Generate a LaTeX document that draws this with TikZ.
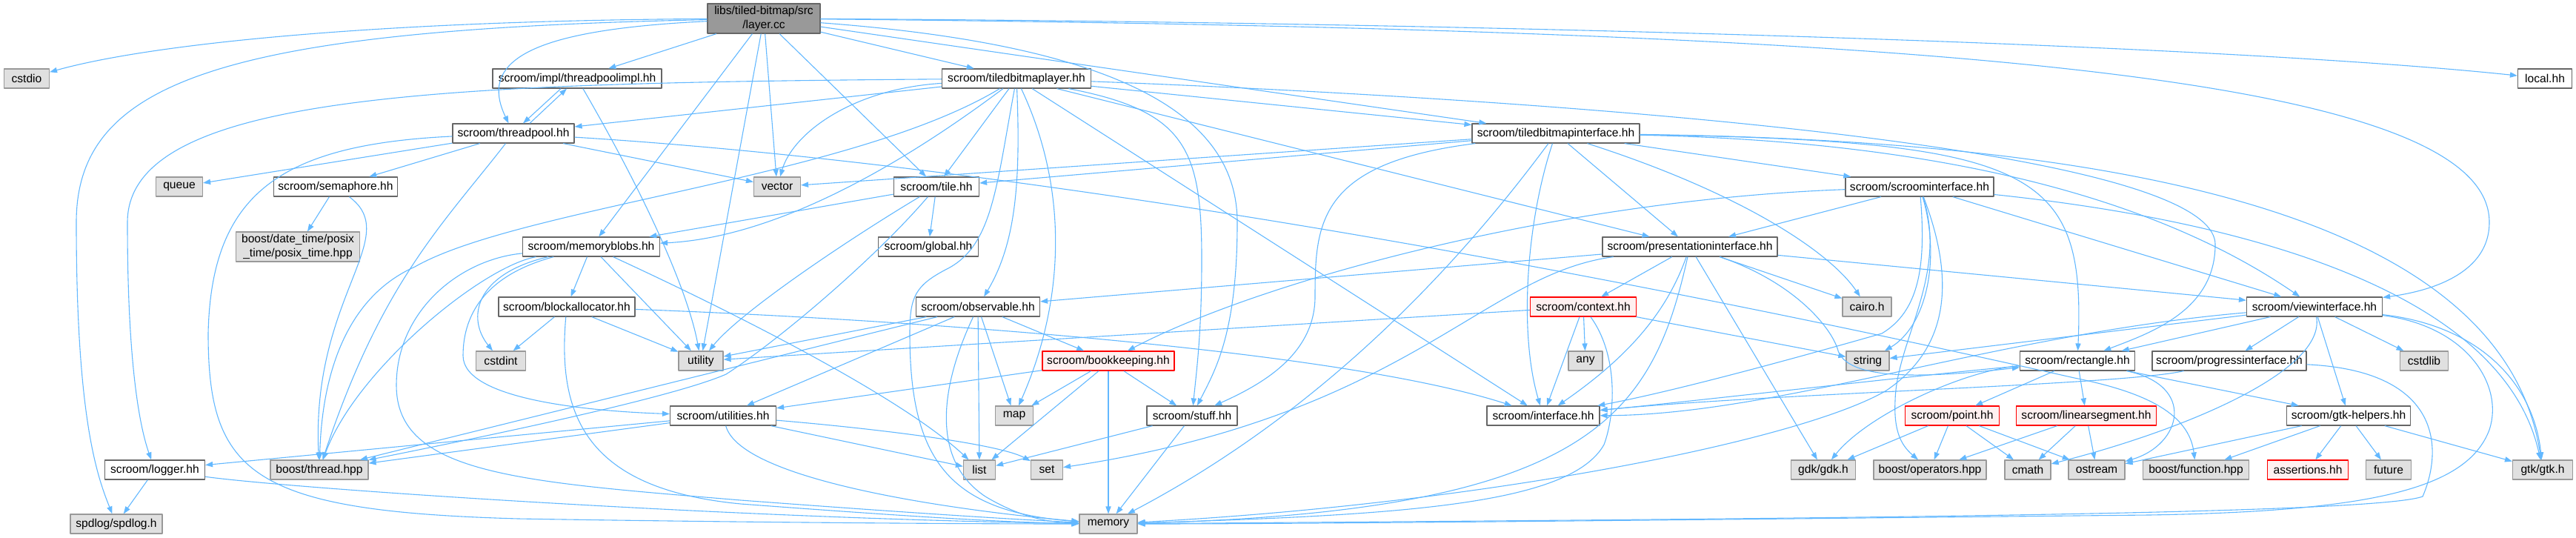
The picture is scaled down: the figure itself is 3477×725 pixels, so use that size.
\documentclass[tikz,border=0pt]{standalone}
\usepackage{fontspec}
\setmainfont{Liberation Sans}
\usetikzlibrary{arrows.meta}
\definecolor{edgeblue}{HTML}{63B8FF}
\definecolor{sysfill}{HTML}{E0E0E0}
\definecolor{sysline}{HTML}{999999}
\definecolor{hdrline}{HTML}{666666}
\definecolor{badfill}{HTML}{FFF0F0}
\begin{document}
\begin{tikzpicture}[x=0.5pt,y=-0.5pt,>={Triangle[length=5pt,width=3.6pt]}, line join=round,
	font=\fontsize{7.8}{9.2}\selectfont,
	hdr/.style={draw=hdrline,fill=white,line width=0.6pt,inner sep=1pt,minimum height=13pt,align=center},
	sys/.style={hdr,draw=sysline,fill=sysfill},
	root/.style={hdr,fill=sysline,minimum height=20pt},
	bad/.style={hdr,draw=red,fill=badfill},
	dep/.style={->,draw=edgeblue,line width=0.55pt}]
	\useasboundingbox (0,0) rectangle (3477,725);
	% hang 1
	\node[root,minimum width=76pt] (layer) at (1031,25) {libs/tiled-bitmap/src\\/layer.cc};
	% hang 2
	\node[sys,minimum width=30.5pt] (cstdio) at (36,106) {cstdio};
	\node[hdr,minimum width=114pt] (threadpoolimpl) at (779,106) {scroom/impl/threadpoolimpl.hh};
	\node[hdr,minimum width=100.5pt] (tbl) at (1372,106) {scroom/tiledbitmaplayer.hh};
	\node[hdr,minimum width=36.5pt] (local) at (3435,106) {local.hh};
	% hang 3
	\node[hdr,minimum width=82pt] (threadpool) at (693,180) {scroom/threadpool.hh};
	\node[hdr,minimum width=113pt] (tbi) at (2100,180) {scroom/tiledbitmapinterface.hh};
	% hang 4
	\node[sys,minimum width=31.5pt] (queue) at (242,252) {queue};
	\node[hdr,minimum width=83.5pt] (semaphore) at (453,252) {scroom/semaphore.hh};
	\node[sys,minimum width=31.5pt] (vector) at (1049,252) {vector};
	\node[hdr,minimum width=57.5pt] (tile) at (1264,252) {scroom/tile.hh};
	\node[hdr,minimum width=100pt] (scroominterface) at (2591,252) {scroom/scroominterface.hh};
	% hang 5
	\node[sys,minimum width=83.5pt,minimum height=20pt] (datetime) at (402,333) {boost/date\_time/posix\\\_time/posix\_time.hpp};
	\node[hdr,minimum width=92.5pt] (memoryblobs) at (798,333) {scroom/memoryblobs.hh};
	\node[hdr,minimum width=67.5pt] (global) at (1253,333) {scroom/global.hh};
	\node[hdr,minimum width=118pt] (presentationinterface) at (2281,333) {scroom/presentationinterface.hh};
	% hang 6
	\node[hdr,minimum width=92pt] (blockallocator) at (765,414) {scroom/blockallocator.hh};
	\node[hdr,minimum width=83.5pt] (observable) at (1320,414) {scroom/observable.hh};
	\node[bad,minimum width=71.5pt] (context) at (2137,414) {scroom/context.hh};
	\node[sys,minimum width=33pt] (cairo) at (2520,414) {cairo.h};
	\node[hdr,minimum width=91.5pt] (viewinterface) at (3124,414) {scroom/viewinterface.hh};
	% hang 7
	\node[sys,minimum width=33.5pt] (cstdint) at (676,487) {cstdint};
	\node[sys,minimum width=30pt] (utility) at (946,487) {utility};
	\node[bad,minimum width=89pt] (bookkeeping) at (1496,487) {scroom/bookkeeping.hh};
	\node[sys,minimum width=23pt] (any) at (2140,487) {any};
	\node[sys,minimum width=29pt] (string) at (2521,487) {string};
	\node[hdr,minimum width=77.5pt] (rectangle) at (2804,487) {scroom/rectangle.hh};
	\node[hdr,minimum width=104pt] (progressinterface) at (3009,487) {scroom/progressinterface.hh};
	\node[sys,minimum width=32.5pt] (cstdlib) at (3272,487) {cstdlib};
	% hang 8
	\node[hdr,minimum width=71.5pt] (utilities) at (976,561) {scroom/utilities.hh};
	\node[sys,minimum width=25.5pt] (map) at (1369,561) {map};
	\node[hdr,minimum width=61pt] (stuff) at (1609,561) {scroom/stuff.hh};
	\node[hdr,minimum width=76pt] (interface) at (2083,561) {scroom/interface.hh};
	\node[bad,minimum width=63.5pt] (point) at (2635,561) {scroom/point.hh};
	\node[bad,minimum width=94.5pt] (linearsegment) at (2816,561) {scroom/linearsegment.hh};
	\node[hdr,minimum width=83.5pt] (gtkhelpers) at (3170,561) {scroom/gtk-helpers.hh};
	% hang 9
	\node[hdr,minimum width=67.5pt] (logger) at (209,634) {scroom/logger.hh};
	\node[sys,minimum width=66pt] (boostthread) at (431,634) {boost/thread.hpp};
	\node[sys,minimum width=21.5pt] (list) at (1322,634) {list};
	\node[sys,minimum width=21.5pt] (set) at (1413,634) {set};
	\node[sys,minimum width=43.5pt] (gdk) at (2461,634) {gdk/gdk.h};
	\node[sys,minimum width=76pt] (operators) at (2605,634) {boost/operators.hpp};
	\node[sys,minimum width=31pt] (cmath) at (2737,634) {cmath};
	\node[sys,minimum width=38pt] (ostream) at (2830,634) {ostream};
	\node[sys,minimum width=71.5pt] (function) at (2964,634) {boost/function.hpp};
	\node[bad,minimum width=54.5pt] (assertions) at (3115,634) {assertions.hh};
	\node[sys,minimum width=30.5pt] (future) at (3224,634) {future};
	\node[sys,minimum width=40.5pt] (gtk) at (3432,634) {gtk/gtk.h};
	% hang 10
	\node[sys,minimum width=62pt] (spdlog) at (157,707) {spdlog/spdlog.h};
	\node[sys,minimum width=39pt] (memory) at (1496,707) {memory};
	% layer.cc
	\draw[dep] (layer) .. controls (500,28) and (200,60) .. (cstdio);
	\draw[dep] (layer) .. controls (300,40) and (103,110) .. (103,300) .. controls (103,560) and (130,640) .. (spdlog);
	\draw[dep] (layer) .. controls (720,40) and (645,80) .. (threadpool);
	\draw[dep] (layer) -- (threadpoolimpl);
	\draw[dep] (layer) -- (memoryblobs);
	\draw[dep] (layer) -- (utility);
	\draw[dep] (layer) -- (vector);
	\draw[dep] (layer) -- (tile);
	\draw[dep] (layer) -- (tbl);
	\draw[dep] (layer) .. controls (1500,60) and (1670,150) .. (1670,300) .. controls (1670,450) and (1640,500) .. (stuff);
	\draw[dep] (layer) -- (tbi);
	\draw[dep] (layer) .. controls (2600,40) and (3360,100) .. (3360,300) .. controls (3360,360) and (3300,390) .. (viewinterface);
	\draw[dep] (layer) .. controls (2000,30) and (3000,60) .. (local);
	% threadpool
	\draw[dep] ([xshift=-11pt]threadpoolimpl.south) -- ([xshift=6.5pt]threadpool.north);
	\draw[dep] ([xshift=11pt]threadpool.north) -- ([xshift=-7pt]threadpoolimpl.south);
	\draw[dep] (threadpoolimpl) .. controls (880,280) and (930,400) .. (utility);
	\draw[dep] (threadpool) -- (queue);
	\draw[dep] (threadpool) -- (semaphore);
	\draw[dep] (threadpool) .. controls (600,300) and (515,380) .. (boostthread);
	\draw[dep] (threadpool) .. controls (380,195) and (285,260) .. (281,450) .. controls (281,640) and (340,690) .. (700,700) .. controls (1000,705) and (1300,707) .. (memory);
	\draw[dep] (threadpool) -- (vector);
	\draw[dep] (threadpool) .. controls (1500,230) and (2400,420) .. (2800,510) .. controls (2900,530) and (2955,560) .. (function);
	% tiledbitmaplayer
	\draw[dep] (tbl) .. controls (600,112) and (172,125) .. (172,300) .. controls (172,500) and (190,580) .. (logger);
	\draw[dep] (tbl) -- (threadpool);
	\draw[dep] (tbl) .. controls (1150,120) and (1070,180) .. (vector);
	\draw[dep] (tbl) .. controls (1150,240) and (700,280) .. (560,360) .. controls (470,400) and (435,500) .. (boostthread);
	\draw[dep] (tbl) .. controls (1220,220) and (1050,320) .. (memoryblobs);
	\draw[dep] (tbl) -- (tile);
	\draw[dep] (tbl) .. controls (1378,250) and (1370,330) .. (observable);
	\draw[dep] (tbl) .. controls (1440,250) and (1440,400) .. (map);
	\draw[dep] (tbl) .. controls (1345,250) and (1340,330) .. (1280,362) .. controls (1235,385) and (1228,400) .. (1228,450) .. controls (1228,620) and (1280,690) .. (memory);
	\draw[dep] (tbl) .. controls (1600,150) and (1622,200) .. (1622,350) .. controls (1622,450) and (1615,500) .. (stuff);
	\draw[dep] (tbl) -- (presentationinterface);
	\draw[dep] (tbl) -- (interface);
	\draw[dep] (tbl) -- (tbi);
	\draw[dep] (tbl) .. controls (2000,130) and (2990,190) .. (2990,330) .. controls (2990,420) and (2900,450) .. (rectangle);
	% tiledbitmapinterface
	\draw[dep] (tbi) -- (vector);
	\draw[dep] (tbi) -- (tile);
	\draw[dep] (tbi) .. controls (1780,220) and (1775,300) .. (1775,400) .. controls (1775,480) and (1700,520) .. (stuff);
	\draw[dep] (tbi) .. controls (1900,450) and (1700,600) .. (memory);
	\draw[dep] (tbi) .. controls (2060,300) and (2050,450) .. (interface);
	\draw[dep] (tbi) -- (presentationinterface);
	\draw[dep] (tbi) .. controls (2350,260) and (2470,340) .. (cairo);
	\draw[dep] (tbi) -- (scroominterface);
	\draw[dep] (tbi) .. controls (2600,190) and (2900,260) .. (viewinterface);
	\draw[dep] (tbi) .. controls (2900,190) and (3380,300) .. (gtk);
	\draw[dep] (tbi) .. controls (2750,190) and (2815,230) .. (rectangle);
	% scroominterface
	\draw[dep] (scroominterface) -- (presentationinterface);
	\draw[dep] (scroominterface) .. controls (2100,270) and (1700,380) .. (bookkeeping);
	\draw[dep] (scroominterface) .. controls (2600,360) and (2590,420) .. (2540,450) .. controls (2400,490) and (2250,530) .. (interface);
	\draw[dep] (scroominterface) .. controls (2620,350) and (2600,440) .. (string);
	\draw[dep] (scroominterface) .. controls (2630,370) and (2560,460) .. (2558,540) .. controls (2556,580) and (2565,600) .. (operators);
	\draw[dep] (scroominterface) -- (viewinterface);
	\draw[dep] (scroominterface) .. controls (3050,300) and (3380,400) .. (gtk);
	\draw[dep] (scroominterface) .. controls (2640,380) and (2630,470) .. (2546,527) .. controls (2430,595) and (2000,680) .. (memory);
	% presentationinterface
	\draw[dep] (presentationinterface) -- (observable);
	\draw[dep] (presentationinterface) .. controls (2000,370) and (1900,560) .. (set);
	\draw[dep] (presentationinterface) -- (context);
	\draw[dep] (presentationinterface) .. controls (2250,420) and (2200,480) .. (interface);
	\draw[dep] (presentationinterface) .. controls (2230,560) and (2150,690) .. (memory);
	\draw[dep] (presentationinterface) -- (gdk);
	\draw[dep] (presentationinterface) .. controls (2420,380) and (2470,440) .. (2480,470) .. controls (2490,515) and (2600,510) .. (rectangle);
	\draw[dep] (presentationinterface) -- (cairo);
	\draw[dep] (presentationinterface) -- (viewinterface);
	% context
	\draw[dep] (context) -- (utility);
	\draw[dep] (context) -- (interface);
	\draw[dep] (context) -- (any);
	\draw[dep] (context) -- (string);
	\draw[dep] (context) .. controls (2185,480) and (2180,560) .. (2165,600) .. controls (2120,680) and (1900,695) .. (memory);
	% viewinterface
	\draw[dep] (viewinterface) -- (string);
	\draw[dep] (viewinterface) .. controls (2700,450) and (2400,560) .. (interface);
	\draw[dep] (viewinterface) -- (rectangle);
	\draw[dep] (viewinterface) -- (progressinterface);
	\draw[dep] (viewinterface) -- (cstdlib);
	\draw[dep] (viewinterface) -- (gtkhelpers);
	\draw[dep] (viewinterface) .. controls (3350,440) and (3420,520) .. (gtk);
	\draw[dep] (viewinterface) .. controls (3140,500) and (2950,580) .. (cmath);
	\draw[dep] (viewinterface) .. controls (3330,440) and (3380,520) .. (3360,580) .. controls (3330,660) and (3200,690) .. (2900,695) .. controls (2400,700) and (1800,707) .. (memory);
	% rectangle, progressinterface
	\draw[dep] (rectangle) .. controls (2600,505) and (2300,540) .. (interface);
	\draw[dep] (rectangle) -- (point);
	\draw[dep] (rectangle) -- (linearsegment);
	\draw[dep] (rectangle) .. controls (2965,520) and (2945,600) .. (ostream);
	\draw[dep] (rectangle) -- (gtkhelpers);
	\draw[dep] (rectangle) .. controls (2650,500) and (2520,560) .. (gdk);
	\draw[dep] (progressinterface) .. controls (2860,520) and (2400,530) .. (interface);
	\draw[dep] (progressinterface) .. controls (3290,500) and (3300,600) .. (3270,670) .. controls (3200,695) and (2400,700) .. (memory);
	% point, linearsegment, gtk-helpers
	\draw[dep] (point) -- (gdk);
	\draw[dep] (point) -- (operators);
	\draw[dep] (point) -- (cmath);
	\draw[dep] (point) -- (ostream);
	\draw[dep] (linearsegment) -- (operators);
	\draw[dep] (linearsegment) -- (cmath);
	\draw[dep] (linearsegment) -- (ostream);
	\draw[dep] (gtkhelpers) -- (ostream);
	\draw[dep] (gtkhelpers) -- (function);
	\draw[dep] (gtkhelpers) -- (assertions);
	\draw[dep] (gtkhelpers) -- (future);
	\draw[dep] (gtkhelpers) -- (gtk);
	% bookkeeping, stuff, utilities
	\draw[dep] (bookkeeping) -- (utilities);
	\draw[dep] (bookkeeping) -- (map);
	\draw[dep] ([xshift=-6.5pt]bookkeeping.south) -- (list);
	\draw[dep] (bookkeeping) -- (memory);
	\draw[dep] (bookkeeping) -- (stuff);
	\draw[dep] (stuff) -- (list);
	\draw[dep] (stuff) -- (memory);
	\draw[dep] (utilities) -- (logger);
	\draw[dep] (utilities) -- (boostthread);
	\draw[dep] (utilities) -- (list);
	\draw[dep] (utilities) .. controls (1200,580) and (1350,600) .. (set);
	\draw[dep] (utilities) .. controls (1000,650) and (1300,690) .. (memory);
	% observable
	\draw[dep] (observable) -- (utility);
	\draw[dep] (observable) -- (boostthread);
	\draw[dep] (observable) -- (utilities);
	\draw[dep] (observable) .. controls (1270,520) and (1255,620) .. (1330,670) .. controls (1380,700) and (1420,705) .. (memory);
	\draw[dep] (observable) -- (list);
	\draw[dep] (observable) -- (map);
	\draw[dep] (observable) -- (bookkeeping);
	% memoryblobs, blockallocator
	\draw[dep] (memoryblobs) -- (blockallocator);
	\draw[dep] (memoryblobs) .. controls (640,370) and (630,430) .. (cstdint);
	\draw[dep] (memoryblobs) -- (utility);
	\draw[dep] (memoryblobs) .. controls (650,360) and (480,500) .. (boostthread);
	\draw[dep] (memoryblobs) .. controls (660,370) and (625,420) .. (625,480) .. controls (625,540) and (800,555) .. (utilities);
	\draw[dep] (memoryblobs) .. controls (900,380) and (1200,520) .. (list);
	\draw[dep] (memoryblobs) .. controls (620,350) and (535,420) .. (535,520) .. controls (535,640) and (700,650) .. (1000,675) .. controls (1200,690) and (1350,700) .. (memory);
	\draw[dep] (blockallocator) -- (cstdint);
	\draw[dep] (blockallocator) -- (utility);
	\draw[dep] (blockallocator) .. controls (1200,430) and (1800,470) .. (interface);
	\draw[dep] (blockallocator) .. controls (752,560) and (790,660) .. (1000,680) .. controls (1200,695) and (1350,705) .. (memory);
	% tile, logger, semaphore
	\draw[dep] (tile) -- (global);
	\draw[dep] (tile) -- (memoryblobs);
	\draw[dep] (tile) .. controls (1150,320) and (1000,420) .. (utility);
	\draw[dep] (tile) .. controls (1180,350) and (1050,460) .. (980,505) .. controls (900,540) and (600,600) .. (boostthread);
	\draw[dep] (logger) -- (spdlog);
	\draw[dep] (logger) .. controls (400,660) and (1000,700) .. (memory);
	\draw[dep] (semaphore) -- (datetime);
	\draw[dep] (semaphore) .. controls (545,320) and (420,400) .. (boostthread);
\end{tikzpicture}
\end{document}
